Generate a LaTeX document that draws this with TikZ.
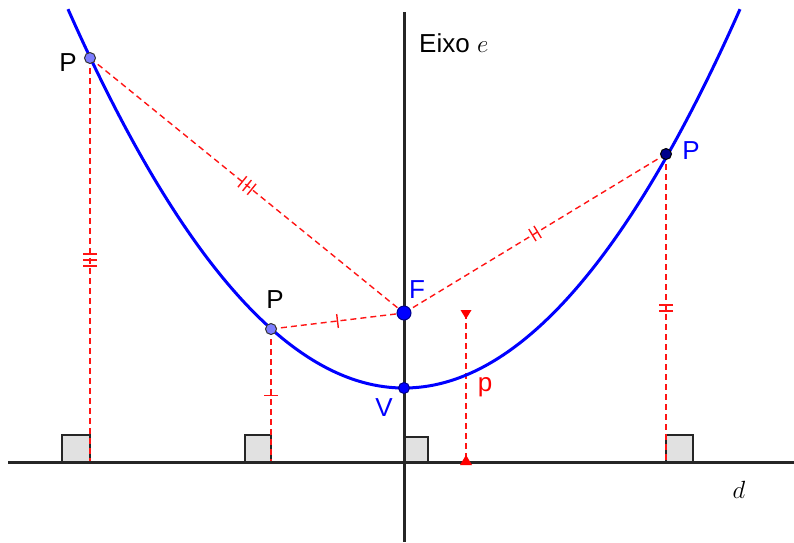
\documentclass[tikz,border=0pt]{standalone}
\usepackage{fontspec}
\setmainfont{Liberation Sans}
\usetikzlibrary{calc}
\definecolor{gblue}{RGB}{0,0,255}
\definecolor{gred}{RGB}{255,20,20}
\definecolor{lightpt}{RGB}{125,125,255}
\definecolor{darkpt}{RGB}{0,0,140}
\definecolor{boxgray}{RGB}{225,225,225}
\newcommand\tickmark[3]{%
  \coordinate (tmpm) at ($(#1)!0.5!(#2)$);
  \coordinate (tmpt) at ($(tmpm)!#3!(#2)$);
  \draw[tickline] ($(tmpt)!7pt!90:(#2)$) -- ($(tmpt)!7pt!-90:(#2)$);}
\begin{document}
\begin{tikzpicture}[x=1pt,y=-1pt,
  mainline/.style={line width=3pt, black!85},
  distline/.style={gred, dashed, dash pattern=on 6pt off 4pt, line width=1.4pt},
  tickline/.style={gred, line width=1.4pt},
  rabox/.style={draw=black!85, fill=boxgray, line width=1.5pt},
  curve/.style={gblue, line width=3pt},
  ptlight/.style={circle, draw=black!80, fill=lightpt, line width=1pt, inner sep=0pt, minimum size=11pt},
  ptdark/.style={circle, draw=black, fill=darkpt, line width=1pt, inner sep=0pt, minimum size=11pt},
  ptblue/.style={circle, draw=darkpt, fill=gblue, line width=1pt, inner sep=0pt, minimum size=#1},
  lbl/.style={font=\fontsize{26}{28}\selectfont, inner sep=0pt},
  mathlbl/.style={font=\fontsize{31}{33}\selectfont, inner sep=0pt}
]
\useasboundingbox (0,0) rectangle (794,542);

% key coordinates
\coordinate (F) at (404,313);
\coordinate (V) at (404,388);
\coordinate (P1) at (90,58);
\coordinate (P2) at (271,329);
\coordinate (P3) at (666,154);
\coordinate (D1) at (90,462);
\coordinate (D2) at (271,462);
\coordinate (D3) at (666,462);
\coordinate (DV) at (404,462);
\coordinate (dl) at (8,462);
\coordinate (dr) at (794,462);
\coordinate (at) at (404,12);
\coordinate (ab) at (404,542);
\coordinate (pt) at (466,313);
\coordinate (pb) at (466,462);

% right-angle boxes
\draw[rabox] ($(D1)+(-28,0)$) rectangle ($(D1)+(0,-27)$);
\draw[rabox] ($(D2)+(-26,0)$) rectangle ($(D2)+(0,-27)$);
\draw[rabox] (DV) rectangle ($(DV)+(24,-25)$);
\draw[rabox] (D3) rectangle ($(D3)+(27,-27)$);

% distance segments
\draw[distline] (P1) -- (F);
\draw[distline] (P1) -- (D1);
\draw[distline] (P2) -- (F);
\draw[distline] (P2) -- (D2);
\draw[distline] (P3) -- (F);
\draw[distline] (P3) -- (D3);

% tick marks
\tickmark{P1}{D1}{-6pt}\tickmark{P1}{D1}{0pt}\tickmark{P1}{D1}{6pt}
\tickmark{P1}{F}{-6pt}\tickmark{P1}{F}{0pt}\tickmark{P1}{F}{6pt}
\tickmark{P2}{F}{0pt}
\tickmark{P2}{D2}{0pt}
\tickmark{P3}{F}{-3pt}\tickmark{P3}{F}{3pt}
\tickmark{P3}{D3}{-3pt}\tickmark{P3}{D3}{3pt}

% axis and directrix
\draw[mainline] (dl) -- (dr);
\draw[mainline] (at) -- (ab);

% p marker
\draw[distline] (pt) -- (pb);
\fill[red] ($(pt)+(-5.5,-3)$) -- ($(pt)+(5.5,-3)$) -- ($(pt)+(0,6)$) -- cycle;
\fill[red] ($(pb)+(-6,3)$) -- ($(pb)+(6,3)$) -- ($(pb)+(0,-7)$) -- cycle;

% parabola
\draw[curve] plot[domain=-33.6:33.6, samples=120, smooth] ({404+10*\x},{388-\x*\x/2.98});

% points
\node[ptlight] (nP1) at (P1) {};
\node[ptlight] (nP2) at (P2) {};
\node[ptdark] (nP3) at (P3) {};
\node[ptblue=14pt] (nF) at (F) {};
\node[ptblue=11pt] (nV) at (V) {};

% labels
\node[lbl] (lP1) at (68,63) {P};
\node[lbl] (lP2) at (275,300) {P};
\node[lbl, text=gblue] (lP3) at (691,151) {P};
\node[lbl, text=gblue] (lF) at (417,290) {F};
\node[lbl, text=gblue] (lV) at (384,408) {V};
\node[lbl, text=red] (lp) at (485,387) {p};
\node[lbl, anchor=base west] (leixo) at (419,52) {Eixo {\fontsize{31}{33}\selectfont$e$}};
\node[mathlbl] (ld) at (739,490) {$d$};
\end{tikzpicture}
\end{document}
